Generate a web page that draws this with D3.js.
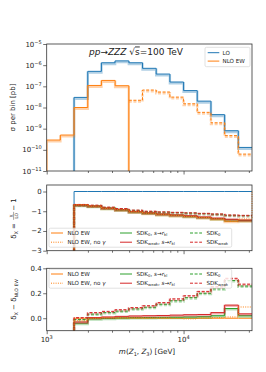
<!DOCTYPE html>
<html><head><meta charset="utf-8">
<script src="https://cdn.jsdelivr.net/npm/d3@7"></script>
<style>
body{margin:0;background:#fff}
text{font-family:"DejaVu Sans",sans-serif;fill:#222}
.axis path{stroke:none}
.axis line{stroke:#333;stroke-width:0.7}
</style>
</head><body><script>
// bin edges (log spaced, GeV)
var edges = [1000, 1259, 1585, 1995, 2512, 3162, 3981, 5012, 6310, 7943, 10000, 12589, 15849, 19953, 25119, 31623];

// top panel: sigma per bin [pb]
var lo     = [null, null, 3.0e-8, 5.1e-7, 1.3e-6, 1.6e-6, 1.3e-6, 7.1e-7, 3.8e-7, 1.6e-7, 6.3e-8, 2.0e-8, 4.6e-9, 8.0e-10, 1.3e-10];
var nloPos = [2.9e-10, 5.0e-10, 1.0e-8, 1.1e-7, 1.9e-7, 1.07e-7, null, null, null, null, null, null, null, null, null];
var nloNeg = [null, null, null, null, null, null, 2.2e-8, 6.7e-8, 5.4e-8, 3.1e-8, 1.5e-8, 5.9e-9, 1.9e-9, 4.7e-10, 6.3e-11];

// middle panel: delta_X = X/LO - 1
var dLO       = [null, null, 0, 0, 0, 0, 0, 0, 0, 0, 0, 0, 0, 0, 0];
var dNLO      = [null, null, -0.66, -0.74, -0.85, -0.93, -1.03, -1.10, -1.16, -1.21, -1.26, -1.32, -1.39, -1.51, -1.48];
var dNLOnoA   = [null, null, -0.68, -0.74, -0.847, -0.927, -1.027, -1.098, -1.158, -1.21, -1.265, -1.318, -1.385, -1.50, -1.39];
var dSDK0rkl  = [null, null, -0.70, -0.745, -0.85, -0.927, -1.025, -1.094, -1.153, -1.202, -1.25, -1.308, -1.37, -1.432, -1.46];
var dSDKWrkl  = [null, null, -0.69, -0.735, -0.84, -0.915, -1.01, -1.08, -1.14, -1.185, -1.23, -1.29, -1.345, -1.405, -1.445];
var dSDK0     = [null, null, -0.67, -0.707, -0.805, -0.873, -0.955, -1.012, -1.048, -1.07, -1.095, -1.12, -1.154, -1.208, -1.222];
var dSDKW     = [null, null, -0.655, -0.695, -0.795, -0.862, -0.945, -1.0, -1.035, -1.055, -1.08, -1.105, -1.138, -1.19, -1.207];

// bottom panel: delta_X - delta_NLO EW
var rNLO      = [null, null, 0, 0, 0, 0, 0, 0, 0, 0, 0, 0, 0, 0, 0];
var rNLOnoA   = [null, null, -0.02, 0.0, 0.003, 0.003, 0.003, 0.002, 0.002, 0.0, -0.005, 0.002, 0.005, 0.01, 0.09];
var rSDK0rkl  = [null, null, -0.04, -0.005, 0.0, 0.003, 0.005, 0.006, 0.007, 0.008, 0.01, 0.012, 0.02, 0.078, 0.02];
var rSDKWrkl  = [null, null, -0.03, 0.005, 0.01, 0.015, 0.018, 0.02, 0.022, 0.025, 0.028, 0.03, 0.045, 0.105, 0.035];
var rSDK0     = [null, null, -0.01, 0.033, 0.045, 0.057, 0.075, 0.088, 0.112, 0.14, 0.165, 0.2, 0.236, 0.302, 0.258];
var rSDKW     = [null, null, 0.005, 0.045, 0.055, 0.068, 0.085, 0.1, 0.125, 0.155, 0.18, 0.215, 0.252, 0.32, 0.273];

var topTicks = [1e-5, 1e-6, 1e-7, 1e-8, 1e-9, 1e-10, 1e-11];
var topTickExp = ["−5", "−6", "−7", "−8", "−9", "−10", "−11"];
var midTicks = [0, -1, -2, -3];
var midTickLabels = ["0", "−1", "−2", "−3"];
var botTicks = [0.0, 0.2, 0.4];
var botTickLabels = ["0.0", "0.2", "0.4"];
var xMajor = [1000, 10000];
var xMajorExp = ["3", "4"];
var xMinor = [2000, 3000, 4000, 5000, 6000, 7000, 8000, 9000, 20000, 30000];

var blue = "#1f77b4", orange = "#ff7f0e", green = "#2ca02c", red = "#d62728";

var W = 266, H = 372;
var left = 46.7, right = 252;
var panels = {
  top: {y0: 44, y1: 171},
  mid: {y0: 185, y1: 250.7},
  bot: {y0: 268.3, y1: 330.7}
};

var x = d3.scaleLog().domain([1000, 31623]).range([left, right]);
var yTop = d3.scaleLog().domain([1e-11, 1e-5]).range([panels.top.y1, panels.top.y0]);
var yMid = d3.scaleLinear().domain([-3, 0.33]).range([panels.mid.y1, panels.mid.y0]);
var yBot = d3.scaleLinear().domain([-0.1, 0.4]).range([panels.bot.y1, panels.bot.y0]);

var svg = d3.select("body").append("svg").attr("width", W).attr("height", H);

// clip paths
Object.keys(panels).forEach(function(k) {
  var p = panels[k];
  svg.append("clipPath").attr("id", "clip-" + k)
    .append("rect").attr("x", left).attr("y", p.y0 - 1)
    .attr("width", right - left + 1).attr("height", p.y1 - p.y0 + 1);
});

// step points for a binned series
function steps(vals, from, to) {
  var pts = [];
  var lastK = null;
  vals.forEach(function(v, k) {
    if (v == null) return;
    if (pts.length == 0 && from != null) pts.push([edges[k], from]);
    pts.push([edges[k], v]);
    pts.push([edges[k + 1], v]);
    lastK = k;
  });
  if (to != null) pts.push([edges[lastK + 1], to]);
  return pts;
}

function drawStep(g, y, pts, color, dash, halo, haloShift) {
  var line = d3.line().x(function(d) { return x(d[0]); }).y(function(d) { return y(d[1]); });
  if (halo) {
    g.append("path").attr("d", line(pts))
      .attr("transform", "translate(0," + haloShift + ")")
      .style("fill", "none").style("stroke", color).style("stroke-width", 2.4)
      .style("opacity", 0.35).style("stroke-dasharray", dash);
  }
  g.append("path").attr("d", line(pts))
    .style("fill", "none").style("stroke", color).style("stroke-width", 1)
    .style("stroke-dasharray", dash);
}

// x axis ticks (no labels on top two panels)
function xTicks(p) {
  svg.append("g").attr("class", "axis")
    .attr("transform", "translate(0," + p.y1 + ")")
    .call(d3.axisBottom(x).tickValues(xMajor).tickSize(3.5).tickFormat(""));
  svg.append("g").attr("class", "axis")
    .attr("transform", "translate(0," + p.y1 + ")")
    .call(d3.axisBottom(x).tickValues(xMinor).tickSize(2).tickFormat(""));
}

function frame(p) {
  svg.append("rect").attr("x", left).attr("y", p.y0)
    .attr("width", right - left).attr("height", p.y1 - p.y0)
    .style("fill", "none").style("stroke", "#333").style("stroke-width", 0.8);
}

// ---------- top panel ----------
var gTop = svg.append("g").attr("clip-path", "url(#clip-top)");
drawStep(gTop, yTop, steps(lo, 1e-11, null), blue, null, true, 1.3);
drawStep(gTop, yTop, steps(nloPos, 1e-11, 1e-11), orange, null, true, 1.3);
drawStep(gTop, yTop, steps(nloNeg, null, null), orange, "3,1.6", true, 1.3);

svg.append("g").attr("class", "axis")
  .attr("transform", "translate(" + left + ",0)")
  .call(d3.axisLeft(yTop).tickValues(topTicks).tickSize(3.5).tickFormat(""));
topTicks.forEach(function(t, i) {
  var tx = svg.append("text").attr("x", left - 5).attr("y", yTop(t) + 2.5)
    .style("text-anchor", "end").style("font-size", "7px");
  tx.append("tspan").text("10");
  tx.append("tspan").attr("dy", -3).style("font-size", "5px").text(topTickExp[i]);
});
xTicks(panels.top);
frame(panels.top);

svg.append("text")
  .attr("transform", "translate(15," + (panels.top.y0 + panels.top.y1) / 2 + ") rotate(-90)")
  .style("text-anchor", "middle").style("font-size", "7px")
  .text("σ per bin [pb]");

// title
var title = svg.append("text").attr("x", 136).attr("y", 54.5)
  .style("text-anchor", "middle").style("font-size", "9px");
title.append("tspan").style("font-style", "italic").text("pp");
title.append("tspan").text("→");
title.append("tspan").style("font-style", "italic").text("ZZZ");
title.append("tspan").text("  √");
title.append("tspan").style("text-decoration", "overline").text("s");
title.append("tspan").text("=100 TeV");

// top legend
var lg = svg.append("g");
lg.append("rect").attr("x", 205).attr("y", 47.3).attr("width", 45).attr("height", 19.4)
  .attr("rx", 1.5).style("fill", "#fff").style("fill-opacity", 0.8)
  .style("stroke", "#ccc").style("stroke-width", 0.6);
[["LO", blue], ["NLO EW", orange]].forEach(function(e, i) {
  var yy = 52.7 + i * 8.4;
  lg.append("line").attr("x1", 207.7).attr("x2", 219.3).attr("y1", yy).attr("y2", yy)
    .style("stroke", e[1]).style("stroke-width", 1);
  lg.append("text").attr("x", 222.5).attr("y", yy + 2).style("font-size", "5.6px").text(e[0]);
});

// ---------- middle panel ----------
var gMid = svg.append("g").attr("clip-path", "url(#clip-mid)");
drawStep(gMid, yMid, steps(dLO, -3.5, null), blue, null, false, 0);
drawStep(gMid, yMid, steps(dNLO, -3.5, null), orange, null, true, 0.8);
drawStep(gMid, yMid, steps(dSDK0rkl, -3.5, null), green, null, true, 0.8);
drawStep(gMid, yMid, steps(dSDKWrkl, -3.5, null), red, null, true, 0.8);
drawStep(gMid, yMid, steps(dSDK0, -3.5, null), green, "3,1.6", true, 0.8);
drawStep(gMid, yMid, steps(dSDKW, -3.5, null), red, "3,1.6", true, 0.8);
drawStep(gMid, yMid, steps(dNLOnoA, -3.5, 0), orange, "1,1.3", false, 0);

svg.append("g").attr("class", "axis")
  .attr("transform", "translate(" + left + ",0)")
  .call(d3.axisLeft(yMid).tickValues(midTicks).tickSize(3.5).tickFormat(""));
midTicks.forEach(function(t, i) {
  svg.append("text").attr("x", left - 5).attr("y", yMid(t) + 2.5)
    .style("text-anchor", "end").style("font-size", "7px").text(midTickLabels[i]);
});
xTicks(panels.mid);
frame(panels.mid);

// middle ylabel: delta_X = X/LO - 1
var yl = svg.append("g")
  .attr("transform", "translate(16," + ((panels.mid.y0 + panels.mid.y1) / 2) + ") rotate(-90)");
var t1 = yl.append("text").attr("x", -21).attr("y", 0).style("font-size", "7px");
t1.append("tspan").text("δ");
t1.append("tspan").attr("dy", 1.5).style("font-size", "5px").text("X");
t1.append("tspan").attr("dy", -1.5).text(" =");
yl.append("text").attr("x", 2).attr("y", -3.5).style("text-anchor", "middle").style("font-size", "4.5px").text("X");
yl.append("line").attr("x1", -2).attr("x2", 6).attr("y1", -2.4).attr("y2", -2.4)
  .style("stroke", "#222").style("stroke-width", 0.4);
yl.append("text").attr("x", 2).attr("y", 2).style("text-anchor", "middle").style("font-size", "4.5px").text("LO");
yl.append("text").attr("x", 7).attr("y", 0).style("font-size", "7px").text(" − 1");

// ---------- bottom panel ----------
var gBot = svg.append("g").attr("clip-path", "url(#clip-bot)");
drawStep(gBot, yBot, steps(rNLO, -0.2, null), orange, null, false, 0);
drawStep(gBot, yBot, steps(rSDK0rkl, -0.2, null), green, null, true, 0.8);
drawStep(gBot, yBot, steps(rSDKWrkl, -0.2, null), red, null, true, 0.8);
drawStep(gBot, yBot, steps(rSDK0, -0.2, null), green, "3,1.6", true, 0.8);
drawStep(gBot, yBot, steps(rSDKW, -0.2, null), red, "3,1.6", true, 0.8);
drawStep(gBot, yBot, steps(rNLOnoA, -0.2, null), orange, "1,1.3", false, 0);

svg.append("g").attr("class", "axis")
  .attr("transform", "translate(" + left + ",0)")
  .call(d3.axisLeft(yBot).tickValues(botTicks).tickSize(3.5).tickFormat(""));
botTicks.forEach(function(t, i) {
  svg.append("text").attr("x", left - 5).attr("y", yBot(t) + 2.5)
    .style("text-anchor", "end").style("font-size", "7px").text(botTickLabels[i]);
});
xTicks(panels.bot);
frame(panels.bot);

xMajor.forEach(function(v, i) {
  var tx = svg.append("text").attr("x", x(v)).attr("y", 342)
    .style("text-anchor", "middle").style("font-size", "7px");
  tx.append("tspan").text("10");
  tx.append("tspan").attr("dy", -3).style("font-size", "5px").text(xMajorExp[i]);
});

var xl = svg.append("text").attr("x", 147).attr("y", 354)
  .style("text-anchor", "middle").style("font-size", "7.2px");
xl.append("tspan").style("font-style", "italic").text("m");
xl.append("tspan").text("(");
xl.append("tspan").style("font-style", "italic").text("Z");
xl.append("tspan").attr("dy", 1.5).style("font-size", "5px").text("1");
xl.append("tspan").attr("dy", -1.5).text(", ");
xl.append("tspan").style("font-style", "italic").text("Z");
xl.append("tspan").attr("dy", 1.5).style("font-size", "5px").text("3");
xl.append("tspan").attr("dy", -1.5).text(") [GeV]");

// bottom ylabel: delta_X - delta_NLO EW
var bl = svg.append("text")
  .attr("transform", "translate(16," + ((panels.bot.y0 + panels.bot.y1) / 2) + ") rotate(-90)")
  .style("text-anchor", "middle").style("font-size", "7px");
bl.append("tspan").text("δ");
bl.append("tspan").attr("dy", 1.5).style("font-size", "5px").text("X");
bl.append("tspan").attr("dy", -1.5).text(" − δ");
bl.append("tspan").attr("dy", 1.5).style("font-size", "4.6px").text("NLO EW");

// ---------- ratio legends ----------
var legEntries = [
  {col: 0, row: 0, color: orange, dash: null, parts: [["NLO EW", ""]]},
  {col: 0, row: 1, color: orange, dash: "1,1.3", parts: [["NLO EW, no ", ""], ["γ", "i"]]},
  {col: 1, row: 0, color: green, dash: null, parts: [["SDK", ""], ["0", "sub"], [", ", ""], ["s", "i"], ["→", ""], ["r", "i"], ["kl", "sub"]]},
  {col: 1, row: 1, color: red, dash: null, parts: [["SDK", ""], ["weak", "sub"], [", ", ""], ["s", "i"], ["→", ""], ["r", "i"], ["kl", "sub"]]},
  {col: 2, row: 0, color: green, dash: "3,1.6", parts: [["SDK", ""], ["0", "sub"]]},
  {col: 2, row: 1, color: red, dash: "3,1.6", parts: [["SDK", ""], ["weak", "sub"]]}
];
var colX = [51, 120, 190];

function legend(top) {
  var g = svg.append("g");
  g.append("rect").attr("x", 49).attr("y", top).attr("width", 182.7).attr("height", 19)
    .attr("rx", 1.5).style("fill", "#fff").style("fill-opacity", 0.8)
    .style("stroke", "#ccc").style("stroke-width", 0.6);
  legEntries.forEach(function(e) {
    var yy = top + 4.8 + e.row * 9.2;
    var x0 = colX[e.col];
    g.append("line").attr("x1", x0).attr("x2", x0 + 12).attr("y1", yy).attr("y2", yy)
      .style("stroke", e.color).style("stroke-width", 1).style("stroke-dasharray", e.dash);
    var tx = g.append("text").attr("x", x0 + 16.5).attr("y", yy + 2).style("font-size", "5.6px");
    var sub = false;
    e.parts.forEach(function(p) {
      var ts = tx.append("tspan").text(p[0]);
      if (p[1] == "i") ts.style("font-style", "italic");
      if (p[1] == "sub") {
        ts.style("font-size", "3.8px");
        if (!sub) ts.attr("dy", 1.2);
        sub = true;
      } else if (sub) {
        ts.attr("dy", -1.2);
        sub = false;
      }
    });
  });
}
legend(228.2);
legend(269.2);
</script></body></html>
